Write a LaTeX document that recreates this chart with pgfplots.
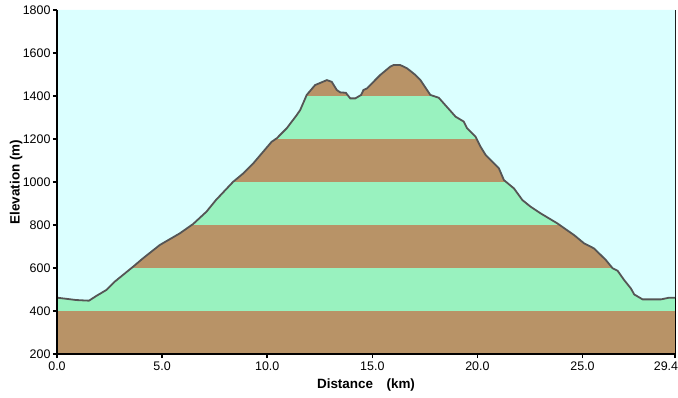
\documentclass[border=0pt]{standalone}
\usepackage{pgfplots}
\pgfplotsset{compat=1.18}
\usepackage{fontspec}
\setmainfont{Liberation Sans}
\definecolor{sky}{RGB}{219,255,255}
\definecolor{band1}{RGB}{184,147,103}
\definecolor{band2}{RGB}{153,242,191}
\definecolor{prof}{RGB}{85,85,85}
\begin{document}
\begin{tikzpicture}[x=1bp,y=1bp]
\begin{axis}[
  scale only axis, width=618bp, height=344bp,
  xmin=0, xmax=29.4, ymin=200, ymax=1800,
  xtick={0,5,10,15,20,25},
  xticklabels={0.0,5.0,10.0,15.0,20.0,25.0},
  extra x ticks={29.4}, extra x tick labels={29.4},
  extra x tick style={xticklabel style={xshift=-9bp}},
  ytick={200,400,...,1800},
  yticklabel style={/pgf/number format/1000 sep={}, xshift=1bp},
  /pgf/number format/assume math mode=true,
  tick align=outside, tick style={black, line width=1.5bp},
  major tick length=4bp,
  xtick pos=bottom, ytick pos=left,
  ticklabel style={font=\fontsize{12.5}{14}\selectfont},
  axis line style={black, line width=0.8bp},
  xlabel={\textbf{Distance\quad(km)}},
  ylabel={\textbf{Elevation (m)}},
  label style={font=\fontsize{13.5}{15}\selectfont},
  xlabel style={at={(axis description cs:0.5,-0.09)}, anchor=center},
  ylabel style={at={(axis description cs:-0.066,0.5)}, anchor=center},
  clip=true,
]
% bands
\addplot[fill=band1, draw=none] coordinates {(0,200) (29.4,200) (29.4,400) (0,400)} -- cycle;
\addplot[fill=band2, draw=none] coordinates {(0,400) (29.4,400) (29.4,600) (0,600)} -- cycle;
\addplot[fill=band1, draw=none] coordinates {(0,600) (29.4,600) (29.4,800) (0,800)} -- cycle;
\addplot[fill=band2, draw=none] coordinates {(0,800) (29.4,800) (29.4,1000) (0,1000)} -- cycle;
\addplot[fill=band1, draw=none] coordinates {(0,1000) (29.4,1000) (29.4,1200) (0,1200)} -- cycle;
\addplot[fill=band2, draw=none] coordinates {(0,1200) (29.4,1200) (29.4,1400) (0,1400)} -- cycle;
\addplot[fill=band1, draw=none] coordinates {(0,1400) (29.4,1400) (29.4,1800) (0,1800)} -- cycle;
% sky above profile
\addplot[fill=sky, draw=none] table {
x y
0 1800
0 462
0.92 451
1.52 448
1.87 470
2.35 498
2.74 536
3.62 606
4.09 645
4.89 707
5.84 761
6.48 805
7.11 862
7.56 916
8.38 1001
8.86 1040
9.34 1087
10.21 1187
10.45 1203
10.93 1250
11.41 1312
11.57 1335
11.88 1405
12.28 1451
12.84 1474
13.07 1466
13.31 1428
13.47 1417
13.74 1415
13.95 1389
14.19 1389
14.47 1405
14.58 1428
14.74 1435
15.38 1498
15.86 1537
16.01 1544
16.33 1544
16.65 1529
17.05 1498
17.29 1474
17.76 1405
18.16 1392
18.96 1304
19.35 1281
19.51 1250
19.91 1211
20.15 1164
20.39 1126
21.02 1064
21.26 1009
21.74 970
22.14 916
22.53 885
23.01 854
23.81 807
24.60 753
25.07 715
25.55 691
26.11 637
26.43 599
26.67 587
26.98 544
27.30 505
27.46 477
27.86 454
28.73 454
29.12 462
29.4 462
29.4 1800
} -- cycle;
% profile line
\addplot[prof, line width=1.8bp] table {
x y
0 462
0.92 451
1.52 448
1.87 470
2.35 498
2.74 536
3.62 606
4.09 645
4.89 707
5.84 761
6.48 805
7.11 862
7.56 916
8.38 1001
8.86 1040
9.34 1087
10.21 1187
10.45 1203
10.93 1250
11.41 1312
11.57 1335
11.88 1405
12.28 1451
12.84 1474
13.07 1466
13.31 1428
13.47 1417
13.74 1415
13.95 1389
14.19 1389
14.47 1405
14.58 1428
14.74 1435
15.38 1498
15.86 1537
16.01 1544
16.33 1544
16.65 1529
17.05 1498
17.29 1474
17.76 1405
18.16 1392
18.96 1304
19.35 1281
19.51 1250
19.91 1211
20.15 1164
20.39 1126
21.02 1064
21.26 1009
21.74 970
22.14 916
22.53 885
23.01 854
23.81 807
24.60 753
25.07 715
25.55 691
26.11 637
26.43 599
26.67 587
26.98 544
27.30 505
27.46 477
27.86 454
28.73 454
29.12 462
29.4 462
};
\end{axis}
\draw[black, line width=2bp] (0,344) -- (0,0) -- (618,0);
\pgfresetboundingbox
\path[use as bounding box] (-57,-43) rectangle (621,354);
\end{tikzpicture}
\end{document}
